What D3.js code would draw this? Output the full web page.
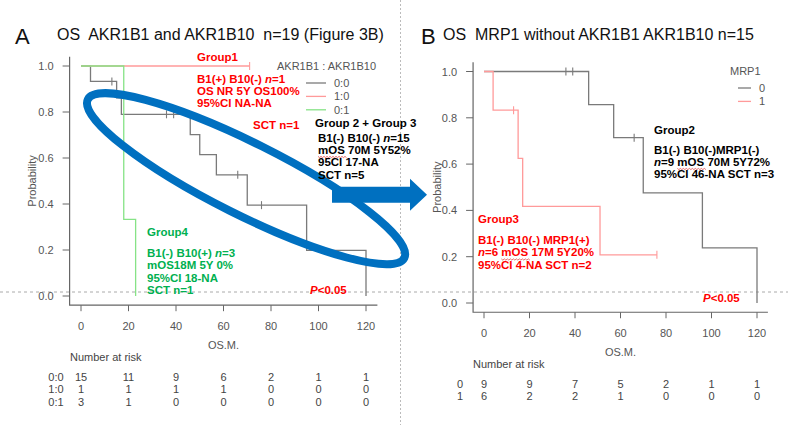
<!DOCTYPE html>
<html>
<head>
<meta charset="UTF-8">
<title>OS AKR1B1 / AKR1B10 / MRP1</title>
<style>
  body { margin: 0; background: #fff; }
  text { font-family: "Liberation Sans", Arial, sans-serif; }
</style>
</head>
<body>
<svg width="788" height="425"></svg>
<script src="https://cdn.jsdelivr.net/npm/d3@7/dist/d3.min.js"></script>
<script>
// values
var xTicks = [0, 20, 40, 60, 80, 100, 120];
var yTicks = [0.0, 0.2, 0.4, 0.6, 0.8, 1.0];

// panel A, AKR1B1 : AKR1B10
var groupsA = ["0:0", "1:0", "0:1"];
var timesA00 = [0, 4, 15, 17, 46, 50, 57, 70, 95, 120];
var survA00 = [1, 0.933, 0.862, 0.790, 0.702, 0.615, 0.527, 0.395, 0.198, 0];
var censA00 = [13, 36, 39, 66, 76];
var timesA10 = [0];
var survA10 = [1];
var censA10 = [71];
var timesA01 = [0, 18, 23];
var survA01 = [1, 0.333, 0];
var censA01 = [];
var riskA00 = [15, 11, 9, 6, 2, 1, 1];
var riskA10 = [1, 1, 1, 1, 0, 0, 0];
var riskA01 = [3, 1, 0, 0, 0, 0, 0];

// panel B, MRP1
var groupsB = ["0", "1"];
var timesB0 = [0, 46, 57, 70, 96, 120];
var survB0 = [1, 0.857, 0.714, 0.476, 0.238, 0];
var censB0 = [36, 39, 66];
var timesB1 = [0, 4, 15, 17, 51];
var survB1 = [1, 0.833, 0.625, 0.417, 0.208];
var censB1 = [13, 76];
var riskB0 = [9, 9, 7, 5, 2, 1, 1];
var riskB1 = [6, 2, 2, 1, 0, 0, 0];

var grey = "#7a7a7a", pink = "#ff9a9a", lgreen = "#86e386";
var red = "#ff0000", green = "#00b050", blue = "#0070c0";

var svg = d3.select("svg");

// separators of the figure
svg.append("line").attr("x1", 0).attr("x2", 788).attr("y1", 292).attr("y2", 292)
  .attr("stroke", "#aaa").attr("stroke-width", 1).attr("stroke-dasharray", "3,3");
svg.append("line").attr("x1", 400.5).attr("x2", 400.5).attr("y1", 0).attr("y2", 425)
  .attr("stroke", "#bbb").attr("stroke-width", 1).attr("stroke-dasharray", "2,2");

function stepPoints(times, surv, cens) {
  var pts = times.map(function(t, i) { return [t, surv[i]]; });
  var end = d3.max([times[times.length - 1]].concat(cens));
  pts.push([end, surv[surv.length - 1]]);
  return pts;
}
function survAt(times, surv, t) {
  var i = d3.bisectRight(times, t) - 1;
  return surv[Math.max(i, 0)];
}

function panel(p) {
  var x = d3.scaleLinear().domain([0, 120]).range(p.xr);
  var y = d3.scaleLinear().domain([0, 1]).range(p.yr);
  var ext = 4.8, yext = 0.04;
  var bx0 = x(-ext), bx1 = x(120 + ext), by0 = y(-yext), by1 = y(1 + yext);
  var g = svg.append("g");

  // L shaped frame
  g.append("path")
    .attr("d", "M" + bx0 + "," + by1 + "V" + by0 + "H" + bx1)
    .attr("fill", "none").attr("stroke", "#666").attr("stroke-width", 1.2);

  g.selectAll(".yt").data(yTicks).enter().append("line")
    .attr("x1", bx0 - 7).attr("x2", bx0).attr("y1", function(d) { return y(d); })
    .attr("y2", function(d) { return y(d); }).attr("stroke", "#666");
  g.selectAll(".yl").data(yTicks).enter().append("text")
    .attr("x", bx0 - 16).attr("y", function(d) { return y(d) + 4; })
    .attr("text-anchor", "end").attr("font-size", 11).attr("fill", "#555")
    .text(function(d) { return d3.format(".1f")(d); });
  g.selectAll(".xt").data(xTicks).enter().append("line")
    .attr("x1", function(d) { return x(d); }).attr("x2", function(d) { return x(d); })
    .attr("y1", by0).attr("y2", by0 + 6).attr("stroke", "#666");
  g.selectAll(".xl").data(xTicks).enter().append("text")
    .attr("x", function(d) { return x(d); }).attr("y", by0 + 25)
    .attr("text-anchor", "middle").attr("font-size", 11).attr("fill", "#555")
    .text(function(d) { return d; });

  g.append("text").attr("transform", "translate(" + p.ylabX + "," + y(0.5) + ") rotate(-90)")
    .attr("text-anchor", "middle").attr("font-size", 11).attr("fill", "#555").text("Probability");
  g.append("text").attr("x", x(60)).attr("y", by0 + 44)
    .attr("text-anchor", "middle").attr("font-size", 11).attr("fill", "#555").text("OS.M.");

  // curves
  var line = d3.line().x(function(d) { return x(d[0]); }).y(function(d) { return y(d[1]); })
    .curve(d3.curveStepAfter);
  p.curves.forEach(function(c) {
    g.append("path").datum(stepPoints(c.t, c.s, c.c)).attr("d", line)
      .attr("fill", "none").attr("stroke", c.color).attr("stroke-width", 1.3);
    g.selectAll(null).data(c.c).enter().append("line")
      .attr("x1", function(d) { return x(d); }).attr("x2", function(d) { return x(d); })
      .attr("y1", function(d) { return y(survAt(c.t, c.s, d)) - 4; })
      .attr("y2", function(d) { return y(survAt(c.t, c.s, d)) + 4; })
      .attr("stroke", c.color).attr("stroke-width", 1.1);
  });

  // legend
  g.append("text").attr("x", p.leg.x).attr("y", p.leg.y).attr("font-size", 11)
    .attr("fill", "#555").text(p.leg.title);
  p.curves.forEach(function(c, i) {
    var ly = p.leg.y + 17 + i * 13.4;
    g.append("line").attr("x1", p.leg.lx).attr("x2", p.leg.lx + p.leg.lw)
      .attr("y1", ly - 4).attr("y2", ly - 4).attr("stroke", c.color).attr("stroke-width", 1.3);
    g.append("text").attr("x", p.leg.lx + p.leg.lw + 8).attr("y", ly).attr("font-size", 11)
      .attr("fill", "#555").text(p.groups[i]);
  });

  // risk table
  g.append("text").attr("x", p.risk.x).attr("y", p.risk.y).attr("font-size", 11)
    .attr("fill", "#444").text("Number at risk");
  p.curves.forEach(function(c, i) {
    var ry = p.risk.y + 20 + i * 12.3;
    g.append("text").attr("x", p.risk.lab).attr("y", ry).attr("font-size", 11)
      .attr("text-anchor", "middle").attr("fill", "#444").text(p.groups[i]);
    g.selectAll(null).data(c.risk).enter().append("text")
      .attr("x", function(d, j) { return x(xTicks[j]); }).attr("y", ry)
      .attr("text-anchor", "middle").attr("font-size", 11).attr("fill", "#444")
      .text(function(d) { return d; });
  });
  return { x: x, y: y };
}

var A = panel({
  xr: [81, 366], yr: [296, 66], ylabX: 36, groups: groupsA,
  curves: [
    { t: timesA00, s: survA00, c: censA00, color: grey, risk: riskA00 },
    { t: timesA10, s: survA10, c: censA10, color: pink, risk: riskA10 },
    { t: timesA01, s: survA01, c: censA01, color: lgreen, risk: riskA01 }
  ],
  leg: { title: "AKR1B1 : AKR1B10", x: 277, y: 70, lx: 306, lw: 20 },
  risk: { x: 70, y: 361, lab: 56 }
});
var B = panel({
  xr: [484, 757], yr: [303, 71.5], ylabX: 441, groups: groupsB,
  curves: [
    { t: timesB0, s: survB0, c: censB0, color: grey, risk: riskB0 },
    { t: timesB1, s: survB1, c: censB1, color: pink, risk: riskB1 }
  ],
  leg: { title: "MRP1", x: 730, y: 75, lx: 738, lw: 13 },
  risk: { x: 473, y: 368, lab: 460 }
});

// titles
svg.append("text").attr("x", 15).attr("y", 44).attr("font-size", 22).attr("fill", "#111").text("A");
svg.append("text").attr("x", 57).attr("y", 40).attr("font-size", 16).attr("fill", "#111")
  .style("white-space", "pre").text("OS  AKR1B1 and AKR1B10  n=19 (Figure 3B)");
svg.append("text").attr("x", 421).attr("y", 44).attr("font-size", 22).attr("fill", "#111").text("B");
svg.append("text").attr("x", 443).attr("y", 40).attr("font-size", 16).attr("fill", "#111")
  .style("white-space", "pre").text("OS  MRP1 without AKR1B1 AKR1B10 n=15");

// highlight ellipse and arrow (panel A)
svg.append("ellipse")
  .attr("transform", "translate(" + A.x(69.5) + "," + A.y(0.51) + ") rotate(26.6)")
  .attr("rx", 177).attr("ry", 36)
  .attr("fill", "none").attr("stroke", blue).attr("stroke-width", 8);
svg.append("path")
  .attr("transform", "translate(332," + A.y(0.44) + ")")
  .attr("d", "M0,-8H78V-16L95,0L78,16V8H0Z").attr("fill", blue);

// annotations; _x_ marks italic, ~x~ marks the red spell-check squiggle
var notes = [
  { x: 197, y: 61, c: red, lines: ["Group1"] },
  { x: 197, y: 82.5, c: red, lines: ["B1(+) B10(-) _n_=1", "OS NR 5Y OS100%", "95%CI NA-NA"] },
  { x: 253, y: 129, c: red, lines: ["SCT n=1"] },
  { x: 315, y: 127, c: "#000", lines: ["Group 2 + Group 3"] },
  { x: 318, y: 141.5, c: "#000", lines: ["B1(-) B10(-) _n_=15", "~mOS~ 70M 5Y52%", "95CI 17-NA", "SCT n=5"] },
  { x: 147, y: 236, c: green, lines: ["Group4"] },
  { x: 147, y: 257, c: green, lines: ["B1(-) B10(+) _n_=3", "mOS18M 5Y 0%", "95%CI 18-NA", "SCT n=1"] },
  { x: 310, y: 294, c: red, lines: ["_P_<0.05"] },
  { x: 654, y: 133.5, c: "#000", lines: ["Group2"] },
  { x: 654, y: 153.5, c: "#000", lines: ["B1(-) B10(-)MRP1(-)", "_n_=9 ~mOS~ 70M 5Y72%", "95%CI 46-NA SCT n=3"] },
  { x: 478, y: 222.5, c: red, lines: ["Group3"] },
  { x: 478, y: 244, c: red, lines: ["B1(-) B10(-) MRP1(+)", "_n_=6 ~mOS~ 17M 5Y20%", "95%CI 4-NA SCT n=2"] },
  { x: 703, y: 302, c: red, lines: ["_P_<0.05"] }
];
notes.forEach(function(n) {
  n.lines.forEach(function(l, i) {
    var t = svg.append("text").attr("x", n.x).attr("y", n.y + i * 12.4)
      .attr("font-size", 11.5).attr("font-weight", "bold").attr("fill", n.c)
      .style("white-space", "pre");
    l.split(/(_[^_]+_|~[^~]+~)/).forEach(function(part) {
      if (!part) return;
      var it = part[0] === "_", wv = part[0] === "~";
      var ts = t.append("tspan").attr("font-style", it ? "italic" : "normal")
        .text(it || wv ? part.slice(1, -1) : part);
      if (wv) {
        var b = ts.node().getBBox(), wy = n.y + i * 12.4 + 2.5, d = "M" + b.x + "," + wy;
        for (var k = 0, xx = b.x; xx < b.x + b.width; k++) { xx += 1.5; d += "L" + xx + "," + (wy + (k % 2 ? 0 : 1.2)); }
        svg.append("path").attr("d", d).attr("fill", "none").attr("stroke", "#e03030").attr("stroke-width", 0.7);
      }
    });
  });
});
</script>
</body>
</html>
